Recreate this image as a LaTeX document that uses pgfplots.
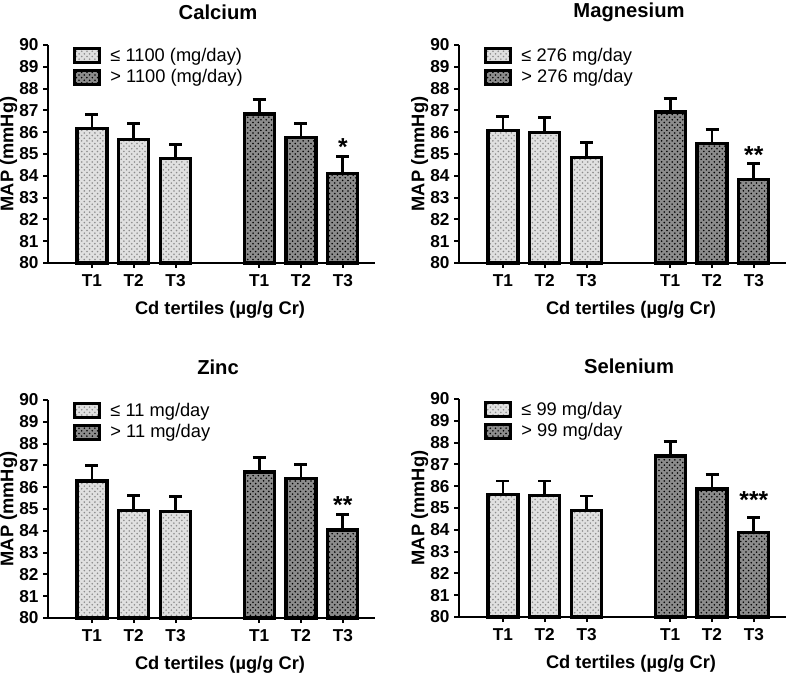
\documentclass[border=0pt]{standalone}
\usepackage{pgfplots}
\pgfplotsset{compat=1.18}
\usepackage{fontspec}
\setmainfont{Liberation Sans}
\usetikzlibrary{patterns}

\pgfplotsset{
  g1/.style={draw=black, line width=1.9pt, preaction={fill=black!12}, pattern=crosshatch dots, pattern color=black!45},
  g2/.style={draw=black, line width=1.9pt, preaction={fill=black!45}, pattern=crosshatch dots, pattern color=black},
  panel/.style={
    scale only axis, width=6.54cm, height=4.36cm,
    axis x line*=bottom, axis y line*=left,
    ymin=80, ymax=90, ytick={80,81,...,90},
    xmin=-0.05, xmax=7.77,
    xtick={1,2,3,5,6,7}, xticklabels={T1,T2,T3,T1,T2,T3},
    yticklabel={\textbf{\pgfmathprintnumber{\tick}}},
    tick align=outside, major tick length=0.1cm,
    tick style={black, line width=1.1pt},
    axis line style={line width=1.1pt},
    ticklabel style={font=\bfseries\fontsize{9.8}{11}\selectfont},
    yticklabel style={xshift=1pt},
    /pgf/number format/assume math mode=true,
    xlabel={Cd tertiles (µg/g Cr)}, ylabel={MAP (mmHg)},
    every axis x label/.style={at={(axis description cs:0.526,-0.215)}, anchor=center,
      font=\bfseries\fontsize{10.4}{12}\selectfont},
    every axis y label/.style={at={(axis description cs:-0.12,0.5)}, rotate=90, anchor=center,
      font=\bfseries\fontsize{10.4}{12}\selectfont},
    every axis title/.style={at={(axis description cs:0.52,1.15)}, anchor=center, font=\bfseries\fontsize{11.5}{13}\selectfont},
    ybar, bar width=0.6cm,
    legend image code/.code={\draw[#1, line width=1.6pt] (0cm,-0.14cm) rectangle (0.5cm,0.14cm); \path (0.62cm,0);},
    legend style={draw=none, fill=none, inner sep=0pt, at={(axis description cs:0.075,1.005)}, anchor=north west,
      font=\fontsize{10.4}{12}\selectfont, row sep=-0.02cm},
    legend cell align=left,
    error bars/y dir=plus, error bars/y explicit,
    error bars/error bar style={line width=1.6pt, black},
    error bars/error mark options={rotate=90, mark size=3.7pt, line width=1.6pt, black},
    clip=false,
  }
}

\begin{document}
\begin{tikzpicture}
\useasboundingbox (0,0) rectangle (16,-13.52);

% Calcium
\begin{axis}[panel, at={(0.96cm,-5.26cm)}, anchor=south west, title={Calcium}]
  \addplot[g1, bar shift=0pt] coordinates {(1,86.18) +- (0,0.62) (2,85.65) +- (0,0.75) (3,84.80) +- (0,0.65)};
  \addplot[g2, bar shift=0pt] coordinates {(5,86.84) +- (0,0.66) (6,85.76) +- (0,0.64) (7,84.12) +- (0,0.76)};
  \legend{≤ 1100 (mg/day), > 1100 (mg/day)}
  \node[font=\bfseries\fontsize{14}{14}\selectfont] at (axis cs:7,85.3) {*};
\end{axis}

% Magnesium
\begin{axis}[panel, at={(9.18cm,-5.26cm)}, anchor=south west, title={Magnesium}]
  \addplot[g1, bar shift=0pt] coordinates {(1,86.08) +- (0,0.64) (2,85.99) +- (0,0.70) (3,84.85) +- (0,0.68)};
  \addplot[g2, bar shift=0pt] coordinates {(5,86.92) +- (0,0.64) (6,85.47) +- (0,0.67) (7,83.82) +- (0,0.76)};
  \legend{≤ 276 mg/day, > 276 mg/day}
  \node[font=\bfseries\fontsize{14}{14}\selectfont] at (axis cs:7,84.95) {**};
\end{axis}

% Zinc
\begin{axis}[panel, at={(0.96cm,-12.36cm)}, anchor=south west, title={Zinc}]
  \addplot[g1, bar shift=0pt] coordinates {(1,86.29) +- (0,0.69) (2,84.94) +- (0,0.69) (3,84.88) +- (0,0.69)};
  \addplot[g2, bar shift=0pt] coordinates {(5,86.70) +- (0,0.66) (6,86.40) +- (0,0.66) (7,84.03) +- (0,0.72)};
  \legend{≤ 11 mg/day, > 11 mg/day}
  \node[font=\bfseries\fontsize{14}{14}\selectfont] at (axis cs:7,85.2) {**};
\end{axis}

% Selenium
\begin{axis}[panel, at={(9.18cm,-12.34cm)}, anchor=south west, title={Selenium}]
  \addplot[g1, bar shift=0pt] coordinates {(1,85.63) +- (0,0.61) (2,85.57) +- (0,0.67) (3,84.88) +- (0,0.67)};
  \addplot[g2, bar shift=0pt] coordinates {(5,87.39) +- (0,0.66) (6,85.87) +- (0,0.65) (7,83.88) +- (0,0.68)};
  \legend{≤ 99 mg/day, > 99 mg/day}
  \node[font=\bfseries\fontsize{14}{14}\selectfont] at (axis cs:7,85.35) {***};
\end{axis}
\end{tikzpicture}
\end{document}
